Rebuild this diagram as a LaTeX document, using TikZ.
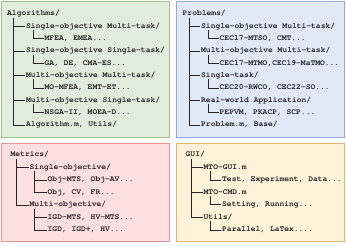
\documentclass[tikz,border=0pt]{standalone}
\usepackage[T1]{fontenc}
\usepackage{fontspec}
\definecolor{gfill}{HTML}{E1ECDD}\definecolor{gdraw}{HTML}{9DC28B}
\definecolor{bfill}{HTML}{E1E9F8}\definecolor{bdraw}{HTML}{97ABDB}
\definecolor{rfill}{HTML}{FDDFDF}\definecolor{rdraw}{HTML}{E59696}
\definecolor{yfill}{HTML}{FFF2D8}\definecolor{ydraw}{HTML}{DDB56E}
\newcommand\courfont{\fontencoding{T1}\fontfamily{pcr}\fontseries{b}\fontshape{n}\fontsize{8}{9}\selectfont}
\begin{document}
\begin{tikzpicture}[x=1bp,y=-1bp,
  panel/.style={line width=0.8pt},
  t/.style={anchor=west,inner sep=0pt,font=\courfont,text height=5.5pt,text depth=1.5pt,text=black!85},
  tree/.style={draw=black!85,line width=0.6pt}]
\useasboundingbox (0,0) rectangle (346,246);
% panels
\path[panel,draw=gdraw,fill=gfill] (1,1) rectangle (169,137);
\path[panel,draw=bdraw,fill=bfill] (176,1) rectangle (344,137);
\path[panel,draw=rdraw,fill=rfill] (1,143.5) rectangle (169,241);
\path[panel,draw=ydraw,fill=yfill] (176,143.5) rectangle (344,241);
% ---- Algorithms
\node[t] (A) at (7,14) {Algorithms/};
\node[t] (A1) at (26,26.4) {Single-objective Multi-task/};
\node[t] (A1a) at (44.5,38.7) {MFEA, EMEA...};
\node[t] (A2) at (26,51) {Single-objective Single-task/};
\node[t] (A2a) at (44.5,63.4) {GA, DE, CMA-ES...};
\node[t] (A3) at (26,75.7) {Multi-objective Multi-task/};
\node[t] (A3a) at (44.5,88) {MO-MFEA, EMT-ET...};
\node[t] (A4) at (26,100.4) {Multi-objective Single-task/};
\node[t] (A4a) at (44.5,112.7) {NSGA-II, MOEA-D...};
\node[t] (A5) at (26,125) {Algorithm.m, Utils/};
\foreach \c in {A1,A2,A3,A4,A5}
  \draw[tree] ([xshift=6.5pt]A.south west) |- ([xshift=-1pt]\c.west);
\foreach \p/\c in {A1/A1a,A2/A2a,A3/A3a,A4/A4a}
  \draw[tree] ([xshift=7pt]\p.south west) |- ([xshift=-1pt]\c.west);
% ---- Problems
\node[t] (P) at (182.5,14) {Problems/};
\node[t] (P1) at (201,26.4) {Single-objective Multi-task/};
\node[t] (P1a) at (219.5,38.7) {CEC17-MTSO, CMT...};
\node[t] (P2) at (201,51) {Multi-objective Multi-task/};
\node[t] (P2a) at (219.5,63.4) {CEC17-MTMO,CEC19-MaTMO...};
\node[t] (P3) at (201,75.7) {Single-task/};
\node[t] (P3a) at (219.5,88) {CEC20-RWCO, CEC22-SO...};
\node[t] (P4) at (201,100.4) {Real-world Application/};
\node[t] (P4a) at (219.5,112.7) {PEPVM, PKACP, SCP...};
\node[t] (P5) at (201,125) {Problem.m, Base/};
\foreach \c in {P1,P2,P3,P4,P5}
  \draw[tree] ([xshift=6.5pt]P.south west) |- ([xshift=-1pt]\c.west);
\foreach \p/\c in {P1/P1a,P2/P2a,P3/P3a,P4/P4a}
  \draw[tree] ([xshift=7pt]\p.south west) |- ([xshift=-1pt]\c.west);
% ---- Metrics
\node[t] (M) at (10.5,155) {Metrics/};
\node[t] (M1) at (29.5,167.5) {Single-objective/};
\node[t] (M1a) at (47.5,180) {Obj-MTS, Obj-AV...};
\node[t] (M1b) at (47.5,192.3) {Obj, CV, FR...};
\node[t] (M2) at (29.5,205) {Multi-objective/};
\node[t] (M2a) at (47.5,217.5) {IGD-MTS, HV-MTS...};
\node[t] (M2b) at (47.5,230) {IGD, IGD+, HV...};
\foreach \c in {M1,M2}
  \draw[tree] ([xshift=6pt]M.south west) |- ([xshift=-1pt]\c.west);
\foreach \p/\c in {M1/M1a,M1/M1b,M2/M2a,M2/M2b}
  \draw[tree] ([xshift=4.5pt]\p.south west) |- ([xshift=-1pt]\c.west);
% ---- GUI
\node[t] (G) at (185.5,155) {GUI/};
\node[t] (G1) at (203.5,167.5) {MTO-GUI.m};
\node[t] (G1a) at (222,180) {Test, Experiment, Data...};
\node[t] (G2) at (203.5,192.2) {MTO-CMD.m};
\node[t] (G2a) at (222,204.7) {Setting, Running...};
\node[t] (G3) at (203.5,217.3) {Utils/};
\node[t] (G3a) at (222,230) {Parallel, LaTex....};
\foreach \c in {G1,G2,G3}
  \draw[tree] ([xshift=6pt]G.south west) |- ([xshift=-1pt]\c.west);
\foreach \p/\c in {G1/G1a,G2/G2a,G3/G3a}
  \draw[tree] ([xshift=6.5pt]\p.south west) |- ([xshift=-1pt]\c.west);
\end{tikzpicture}
\end{document}
